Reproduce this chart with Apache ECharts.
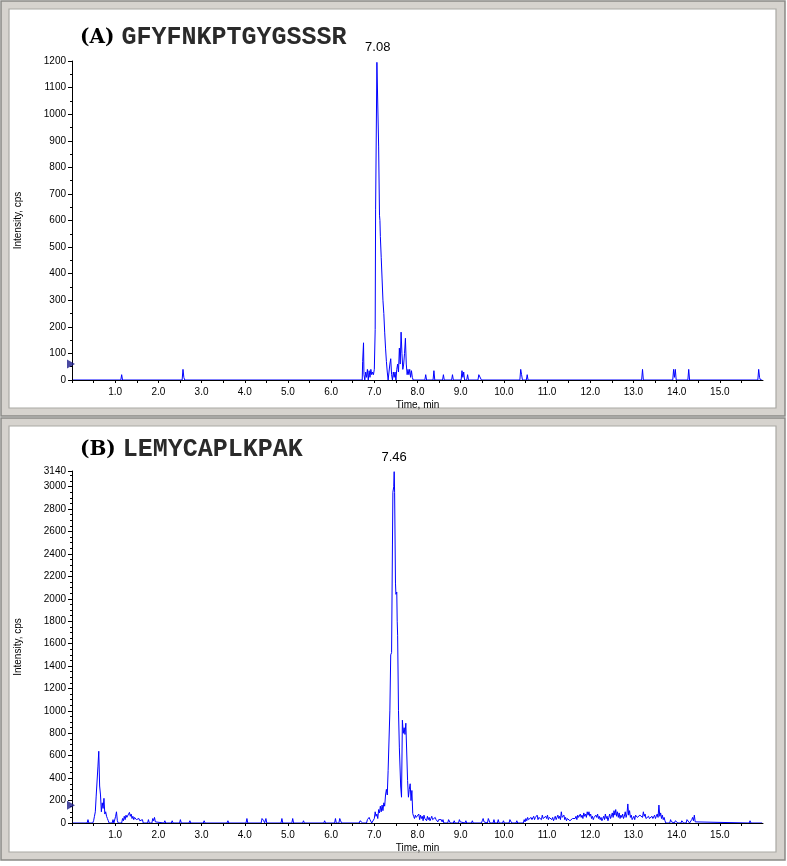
<!DOCTYPE html>
<html>
<head>
<meta charset="utf-8">
<script src="https://cdn.jsdelivr.net/npm/echarts@6/dist/echarts.min.js"></script>
<style>
html,body{margin:0;padding:0;background:#fff;}
#chart{width:787px;height:866px;}
</style>
</head>
<body>
<div id="chart"></div>
<script>
// ---------- Panel A : GFYFNKPTGYGSSSR ----------
const titleA = ['(A)', 'GFYFNKPTGYGSSSR'];
const peakLabelA = '7.08';
const markerA = 60;
const timeA = [
  0.00,
  1.13, 1.15, 1.17,
  2.55, 2.57, 2.59, 2.61,
  6.72, 6.73, 6.75, 6.76, 6.78, 6.80, 6.82, 6.84, 6.86, 6.88, 6.90, 6.92, 6.94, 6.96, 6.98,
  7.00, 7.02, 7.03, 7.06, 7.08, 7.09, 7.10, 7.11, 7.12, 7.13, 7.14, 7.16, 7.18, 7.20, 7.22, 7.24,
  7.26, 7.28, 7.30, 7.32, 7.34, 7.36, 7.38, 7.40, 7.42, 7.44, 7.46, 7.48, 7.50, 7.52, 7.54, 7.56,
  7.58, 7.60, 7.62, 7.64, 7.66, 7.68, 7.70, 7.72, 7.74, 7.76, 7.78, 7.80, 7.82, 7.84, 7.86, 7.88, 7.90,
  8.17, 8.19, 8.21,
  8.36, 8.38, 8.40,
  8.58, 8.60, 8.62,
  8.79, 8.81, 8.83,
  9.01, 9.03, 9.05, 9.07, 9.09,
  9.14, 9.16, 9.18,
  9.40, 9.42, 9.44, 9.46, 9.48,
  10.37, 10.39, 10.41, 10.43,
  10.52, 10.54, 10.56,
  13.19, 13.21, 13.23,
  13.91, 13.93, 13.95, 13.97, 13.99,
  14.26, 14.28, 14.30,
  15.88, 15.90, 15.92, 15.94,
  15.98
];
const intensityA = [
  0,
  0, 20, 0,
  0, 40, 10, 0,
  0, 70, 140, 20, 0, 30, 10, 40, 0, 35, 10, 40, 20, 30, 20,
  40, 190, 640, 1195, 1200, 1190, 880, 880, 620, 600, 540, 460, 380, 300, 250, 180,
  120, 70, 30, 0, 30, 60, 80, 20, 0, 30, 10, 30, 0, 40, 60, 30,
  120, 60, 180, 100, 40, 60, 100, 157, 60, 20, 40, 20, 40, 10, 35, 10, 0,
  0, 20, 0,
  0, 35, 0,
  0, 20, 0,
  0, 20, 0,
  0, 35, 10, 30, 0,
  0, 20, 0,
  0, 20, 15, 20, 0,
  0, 40, 20, 0,
  0, 20, 0,
  0, 40, 0,
  0, 40, 10, 40, 0,
  0, 40, 0,
  0, 40, 10, 0,
  0
];
const yTicksA = {min: 0, max: 1200, interval: 100};

// ---------- Panel B : LEMYCAPLKPAK ----------
const titleB = ['(B)', 'LEMYCAPLKPAK'];
const peakLabelB = '7.46';
const markerB = 158;
const timeB = [
  0.00,
  0.35, 0.37, 0.39,
  0.48, 0.50, 0.52, 0.54, 0.56, 0.58, 0.60, 0.62, 0.64, 0.66, 0.68, 0.70, 0.72, 0.74, 0.76, 0.78, 0.80, 0.82, 0.84, 0.86,
  0.93, 0.95, 0.97, 1.01, 1.03, 1.05, 1.07,
  1.15, 1.17, 1.19, 1.21, 1.23, 1.25, 1.27, 1.29, 1.31, 1.33, 1.35, 1.37, 1.39, 1.41, 1.43, 1.45, 1.47, 1.49,
  1.51, 1.53, 1.55, 1.57, 1.59, 1.61, 1.63, 1.65,
  1.75, 1.77, 1.79, 1.85, 1.87, 1.89, 1.91, 1.93, 1.95,
  2.13, 2.15, 2.17,
  2.30, 2.32, 2.34,
  2.49, 2.51, 2.53,
  2.71, 2.73, 2.75,
  3.04, 3.06, 3.08,
  3.59, 3.61, 3.63,
  4.03, 4.05, 4.07,
  4.38, 4.40, 4.42, 4.44, 4.46, 4.49, 4.51,
  4.84, 4.86, 4.88,
  5.09, 5.11, 5.13,
  5.34, 5.36, 5.38,
  5.83, 5.85, 5.87,
  6.08, 6.10, 6.12, 6.18, 6.20, 6.22, 6.24,
  6.65, 6.67, 6.69, 6.71, 6.73,
  6.82, 6.84, 6.86, 6.88, 6.90, 6.92, 6.94,
  6.98, 7.00, 7.02, 7.04, 7.06, 7.08, 7.10, 7.12, 7.14, 7.16, 7.18, 7.20, 7.22, 7.24, 7.26, 7.28,
  7.30, 7.32, 7.34, 7.36, 7.38, 7.40, 7.42, 7.43, 7.45, 7.46, 7.47, 7.49, 7.50, 7.52, 7.53, 7.54,
  7.56, 7.58, 7.61, 7.63, 7.65, 7.67, 7.69, 7.71, 7.73, 7.75, 7.77, 7.79, 7.81, 7.83, 7.85, 7.87, 7.89, 7.91,
  7.93, 7.95, 7.97, 7.99, 8.01, 8.03, 8.05, 8.07, 8.09, 8.11, 8.13, 8.15, 8.17, 8.19, 8.21, 8.23, 8.25,
  8.27, 8.29, 8.31, 8.33, 8.35, 8.37, 8.39, 8.41, 8.43, 8.45, 8.47, 8.49, 8.51, 8.53, 8.55, 8.57, 8.59, 8.61,
  8.70, 8.72, 8.74, 8.76,
  8.83, 8.85, 8.87,
  8.95, 8.97, 8.99, 9.01,
  9.10, 9.12, 9.14,
  9.25, 9.27, 9.29,
  9.48, 9.50, 9.52, 9.54, 9.56,
  9.62, 9.64, 9.66, 9.68,
  9.75, 9.77, 9.79, 9.85, 9.87, 9.89,
  9.97, 9.99, 10.01,
  10.12, 10.14, 10.16, 10.18,
  10.28, 10.30, 10.32,
  10.45, 10.47, 10.49, 10.51, 10.53, 10.55, 10.57, 10.59, 10.61, 10.63, 10.65, 10.67, 10.69, 10.71, 10.73,
  10.75, 10.77, 10.79, 10.81, 10.83, 10.85, 10.87, 10.89, 10.91, 10.93, 10.95, 10.97, 10.99, 11.01, 11.03,
  11.05, 11.07, 11.09, 11.11, 11.13, 11.15, 11.17, 11.19, 11.21, 11.23, 11.25, 11.27, 11.29, 11.31, 11.33,
  11.35, 11.37, 11.39, 11.41, 11.43, 11.45, 11.47, 11.49, 11.51, 11.53, 11.55, 11.57, 11.59, 11.61, 11.63,
  11.65, 11.67, 11.69, 11.71, 11.73, 11.75, 11.77, 11.79, 11.81, 11.83, 11.85, 11.87, 11.89, 11.91, 11.93,
  11.95, 11.97, 11.99, 12.01, 12.03, 12.05, 12.07, 12.09, 12.11, 12.13, 12.15, 12.17, 12.19, 12.21, 12.23,
  12.25, 12.27, 12.29, 12.31, 12.33, 12.35, 12.37, 12.39, 12.41, 12.43, 12.45, 12.47, 12.49, 12.51, 12.53,
  12.55, 12.57, 12.59, 12.61, 12.63, 12.65, 12.67, 12.69, 12.71, 12.73, 12.75, 12.77, 12.79, 12.81, 12.83,
  12.85, 12.87, 12.89, 12.91, 12.93, 12.95, 12.97, 12.99, 13.01, 13.03, 13.05, 13.07, 13.09, 13.11, 13.13,
  13.15, 13.17, 13.19, 13.21, 13.23, 13.25, 13.27, 13.29, 13.31, 13.33, 13.35, 13.37, 13.39, 13.41, 13.43,
  13.45, 13.47, 13.49, 13.51, 13.53, 13.55, 13.57, 13.59, 13.61, 13.63, 13.65, 13.67, 13.69, 13.71, 13.73, 13.75,
  13.84, 13.86, 13.88, 13.90,
  13.95, 13.97, 13.99, 14.01, 14.03,
  14.10, 14.12, 14.14, 14.16,
  14.22, 14.24, 14.26, 14.28, 14.30, 14.33, 14.35, 14.37, 14.39, 14.41, 14.43, 14.45,
  15.68, 15.70, 15.72,
  15.98
];
const intensityB = [
  0,
  0, 30, 0,
  0, 20, 60, 100, 240, 230, 500, 640, 330, 250, 100, 180, 130, 220, 80, 100, 60, 40, 20, 0,
  0, 30, 0, 60, 100, 20, 0,
  0, 40, 20, 60, 30, 70, 50, 60, 40, 95, 60, 80, 40, 60, 30, 50, 60, 30,
  40, 20, 40, 20, 30, 10, 30, 0,
  0, 30, 0, 0, 40, 20, 50, 10, 0,
  0, 20, 0,
  0, 20, 0,
  0, 30, 0,
  0, 20, 0,
  0, 20, 0,
  0, 20, 0,
  0, 40, 0,
  0, 40, 50, 20, 0, 40, 0,
  0, 40, 0,
  0, 40, 0,
  0, 20, 0,
  0, 20, 0,
  0, 40, 0, 0, 40, 20, 0,
  0, 20, 10, 20, 0,
  0, 30, 20, 50, 30, 20, 0,
  0, 40, 100, 60, 80, 40, 120, 90, 150, 100, 160, 110, 180, 150, 250, 300,
  250, 470, 470, 1000, 1500, 1520, 2480, 2950, 3000, 3134, 2950, 2140, 2040, 2060, 1800, 1675,
  1005, 670, 330, 230, 917, 800, 850, 790, 890, 880, 380, 230, 300, 350, 200, 290, 85, 60,
  40, 70, 50, 60, 40, 80, 30, 70, 40, 60, 20, 70, 40, 50, 20, 60, 30,
  50, 20, 40, 60, 30, 40, 20, 50, 30, 40, 10, 30, 40, 20, 30, 10, 30, 0,
  0, 30, 20, 0,
  0, 20, 0,
  0, 30, 10, 0,
  0, 20, 0,
  0, 20, 0,
  0, 20, 40, 10, 0,
  0, 40, 30, 0,
  0, 30, 0, 0, 30, 0,
  0, 20, 0,
  0, 30, 20, 0,
  0, 20, 0,
  0, 30, 10, 40, 20, 50, 30, 40, 20, 50, 30, 40, 60, 30, 50,
  40, 70, 30, 50, 40, 60, 30, 70, 40, 50, 30, 60, 40, 70, 30,
  50, 40, 60, 30, 50, 20, 40, 60, 30, 50, 70, 40, 60, 30, 100,
  50, 40, 70, 30, 50, 20, 40, 30, 50, 20, 30, 10, 40, 30, 50,
  40, 60, 30, 70, 50, 40, 80, 50, 70, 40, 90, 60, 80, 50, 100,
  70, 100, 60, 80, 40, 60, 30, 50, 40, 70, 50, 80, 40, 60, 30,
  50, 20, 40, 60, 30, 80, 40, 60, 20, 50, 80, 40, 60, 90, 50,
  110, 70, 120, 60, 100, 50, 90, 40, 70, 50, 80, 40, 60, 100, 50,
  80, 170, 70, 110, 50, 70, 30, 40, 60, 30, 70, 80, 50, 60, 40,
  70, 60, 80, 50, 100, 60, 80, 40, 50, 30, 60, 40, 50, 30, 60,
  40, 50, 70, 40, 60, 80, 50, 160, 60, 90, 40, 70, 30, 50, 20, 0,
  0, 30, 10, 0,
  0, 20, 30, 10, 0,
  0, 20, 30, 0,
  0, 30, 20, 40, 0, 0, 30, 50, 20, 70, 10, 0,
  0, 20, 0,
  0
];
const yTicksB = {min: 0, max: 3140, interval: 200};

// ---------- shared axis setup ----------
const xTicks = {min: 0, max: 16, interval: 0.5};
const xName = 'Time, min';
const yName = 'Intensity, cps';

function pairs(t, v) { return t.map((x, i) => [x, v[i]]); }
function peakOf(t, v) {
  let k = 0;
  v.forEach((y, i) => { if (y > v[k]) k = i; });
  return [t[k], v[k]];
}

const traceColor = '#0000ff';
const labelFont = {fontFamily: 'Liberation Sans, Arial, sans-serif', fontSize: 10, color: '#000'};

function xAxisCfg(gi) {
  return {
    type: 'value', gridIndex: gi, min: xTicks.min, max: xTicks.max, interval: xTicks.interval,
    name: xName, nameLocation: 'middle', nameGap: 20,
    nameTextStyle: {fontFamily: 'Liberation Sans, Arial, sans-serif', fontSize: 10, color: '#000'},
    axisLine: {show: true, onZero: false, lineStyle: {color: '#000', width: 1}},
    axisTick: {show: true, length: 3, lineStyle: {color: '#000'}},
    axisLabel: Object.assign({
      margin: 7, showMaxLabel: false,
      formatter: v => (v > 0 && v < xTicks.max && Math.abs(v - Math.round(v)) < 1e-6) ? v.toFixed(1) : ''
    }, labelFont),
    splitLine: {show: false}, z: 5
  };
}
function yAxisCfg(gi, t, minorSplit) {
  return {
    type: 'value', gridIndex: gi, min: t.min, max: t.max, interval: t.interval,
    name: yName, nameLocation: 'middle', nameGap: 49,
    nameTextStyle: {fontFamily: 'Liberation Sans, Arial, sans-serif', fontSize: 10, color: '#000'},
    axisLine: {show: true, lineStyle: {color: '#000', width: 1}},
    axisTick: {show: true, length: 4, lineStyle: {color: '#000'}},
    minorTick: {show: true, splitNumber: minorSplit, length: 2, lineStyle: {color: '#000'}},
    axisLabel: Object.assign({margin: 6, formatter: v => String(Math.round(v))}, labelFont),
    splitLine: {show: false}, z: 5
  };
}
function titleCfg(parts, top) {
  return {
    text: '{b|' + parts[0] + '}{s|' + parts[1] + '}', left: 80, top: top, padding: 0,
    textStyle: {rich: {
      b: {fontFamily: 'DejaVu Serif', fontWeight: 'bold', fontSize: 20, color: '#000', padding: [0, 7, 0, 0]},
      s: {fontFamily: 'Liberation Mono, monospace', fontSize: 25, color: '#2a2a2a'}
    }}
  };
}
function traceSeries(gi, t, v, lbl) {
  return {
    type: 'line', xAxisIndex: gi, yAxisIndex: gi, data: pairs(t, v),
    showSymbol: false, symbol: 'none', animation: false,
    lineStyle: {color: traceColor, width: 1}, itemStyle: {color: traceColor}, z: 2,
    markPoint: {
      symbol: 'circle', symbolSize: 1, itemStyle: {color: 'rgba(0,0,0,0)'},
      label: {show: true, position: 'top', distance: 7, formatter: () => lbl,
              fontFamily: 'Liberation Sans, Arial, sans-serif', fontSize: 13, color: '#000'},
      data: [{coord: peakOf(t, v)}]
    }
  };
}
function markerSeries(gi, val) {
  return {
    type: 'scatter', xAxisIndex: gi, yAxisIndex: gi, data: [[0, val]], clip: false,
    symbol: 'triangle', symbolRotate: -90, symbolSize: [9, 8], symbolOffset: [-1, 0],
    itemStyle: {color: '#1c1c8a'}, z: 6, silent: true, animation: false
  };
}
function frame(y0, y1) {
  return [
    {type: 'rect', shape: {x: 1, y: y0, width: 784, height: y1 - y0},
     style: {fill: '#d6d3ce', stroke: '#8a8a86', lineWidth: 1.5}, z: -20},
    {type: 'rect', shape: {x: 9, y: y0 + 8, width: 767, height: y1 - y0 - 16},
     style: {fill: '#ffffff', stroke: '#aaa9a4', lineWidth: 1.2}, z: -19}
  ];
}

const chart = echarts.init(document.getElementById('chart'), null, {renderer: 'canvas'});
chart.setOption({
  backgroundColor: '#ffffff',
  animation: false,
  graphic: [].concat(frame(1, 416), frame(418, 860)),
  title: [titleCfg(titleA, 25), titleCfg(titleB, 437)],
  grid: [
    {left: 72, right: 24, top: 61, height: 319, containLabel: false},
    {left: 72, right: 24, top: 471, height: 352, containLabel: false}
  ],
  xAxis: [xAxisCfg(0), xAxisCfg(1)],
  yAxis: [yAxisCfg(0, yTicksA, 2), yAxisCfg(1, yTicksB, 4)],
  series: [
    traceSeries(0, timeA, intensityA, peakLabelA),
    traceSeries(1, timeB, intensityB, peakLabelB),
    markerSeries(0, markerA),
    markerSeries(1, markerB)
  ]
});
</script>
</body>
</html>
